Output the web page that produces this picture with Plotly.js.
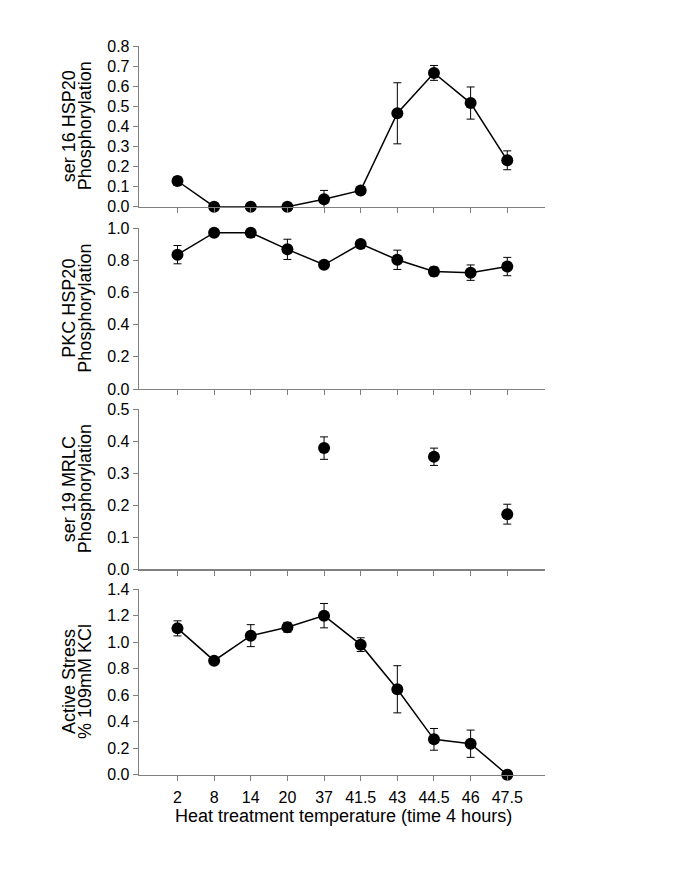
<!DOCTYPE html>
<html>
<head>
<meta charset="utf-8">
<script src="https://cdn.plot.ly/plotly-3.0.1.min.js"></script>
<style>html,body{margin:0;padding:0;background:#fff;}#chart{width:685px;height:885px;}</style>
</head>
<body>
<div id="chart"></div>
<script>
const temps = ['2','8','14','20','37','41.5','43','44.5','46','47.5'];

const ser16Hsp20 = [0.128, 0.0, 0.0, 0.0, 0.037, 0.081, 0.465, 0.666, 0.516, 0.231];
const ser16Hsp20Err = [0.02, 0, 0, 0, 0.044, 0.01, 0.152, 0.037, 0.08, 0.047];

const pkcHsp20 = [0.836, 0.973, 0.973, 0.869, 0.773, 0.903, 0.804, 0.731, 0.724, 0.762];
const pkcHsp20Err = [0.057, 0.01, 0.03, 0.063, 0.015, 0.01, 0.06, 0.028, 0.048, 0.057];

const ser19Mrlc = [null, null, null, null, 0.378, null, null, 0.351, null, 0.172];
const ser19MrlcErr = [null, null, null, null, 0.035, null, null, 0.027, null, 0.031];

const activeStress = [1.105, 0.861, 1.050, 1.113, 1.201, 0.982, 0.645, 0.267, 0.234, 0.0];
const activeStressErr = [0.057, 0.015, 0.083, 0.037, 0.092, 0.052, 0.178, 0.082, 0.103, 0];

const yTitles = [
  ['ser 16 HSP20', 'Phosphorylation'],
  ['PKC HSP20', 'Phosphorylation'],
  ['ser 19 MRLC', 'Phosphorylation'],
  ['Active Stress', '% 109mM KCl']
];
const xTitle = 'Heat treatment temperature (time 4 hours)';

const W = 685, H = 885;
const FONT = 'Liberation Sans, Arial, sans-serif';
const AXC = '#808080';

function trace(y, err, idx, mode) {
  const s = idx === 1 ? '' : String(idx);
  return {
    x: temps, y: y, type: 'scatter', mode: mode,
    xaxis: 'x' + s, yaxis: 'y' + s,
    cliponaxis: false,
    line: {color: '#000', width: 1.5},
    marker: {color: '#000', size: 12, symbol: 'circle'},
    error_y: {type: 'data', array: err, visible: true, color: '#000', thickness: 1, width: 4},
    showlegend: false, hoverinfo: 'x+y'
  };
}

const data = [
  trace(ser16Hsp20, ser16Hsp20Err, 1, 'lines+markers'),
  trace(pkcHsp20, pkcHsp20Err, 2, 'lines+markers'),
  trace(ser19Mrlc, ser19MrlcErr, 3, 'markers'),
  trace(activeStress, activeStressErr, 4, 'lines+markers')
];

// pixel geometry (top, bottom of each panel)
const panels = [[46, 206.7], [228.3, 389], [409, 569.3], [589.3, 774.7]];
const ranges = [[0, 0.8], [0, 1.0], [0, 0.5], [0, 1.4]];
const dticks = [0.1, 0.2, 0.1, 0.2];
const xDom = [139 / W, 545 / W];

const layout = {
  width: W, height: H,
  margin: {l: 0, r: 0, t: 0, b: 0},
  paper_bgcolor: '#fff', plot_bgcolor: '#fff',
  font: {family: FONT, color: '#000', size: 16},
  showlegend: false,
  annotations: []
};

for (let i = 0; i < 4; i++) {
  const s = i === 0 ? '' : String(i + 1);
  const [top, bot] = panels[i];
  layout['xaxis' + s] = {
    domain: xDom, anchor: 'y' + s,
    type: 'category', range: [-1.05, 10.03],
    showline: true, linecolor: AXC, linewidth: 1.3,
    ticks: 'outside', ticklen: 5, tickcolor: AXC, tickwidth: 1,
    showticklabels: i === 3, tickfont: {size: 16, family: FONT, color: '#000'},
    ticklabelstandoff: 3,
    showgrid: false, zeroline: false, fixedrange: true
  };
  if (i > 0) layout['xaxis' + s].matches = 'x';
  layout['yaxis' + s] = {
    domain: [1 - bot / H, 1 - top / H], anchor: 'x' + s,
    range: ranges[i], dtick: dticks[i], tick0: 0, tickformat: '.1f',
    showline: true, linecolor: AXC, linewidth: 1.3,
    ticks: 'outside', ticklen: 5, tickcolor: AXC, tickwidth: 1,
    tickfont: {size: 16, family: FONT, color: '#000'},
    showgrid: false, zeroline: false, fixedrange: true
  };
  const yc = 1 - ((top + bot) / 2) / H;
  layout.annotations.push({
    xref: 'paper', yref: 'paper', x: 69 / W, y: yc, text: yTitles[i][0],
    textangle: -90, showarrow: false, xanchor: 'center', yanchor: 'middle',
    font: {size: 18, family: FONT, color: '#000'}
  });
  layout.annotations.push({
    xref: 'paper', yref: 'paper', x: 85 / W, y: yc, text: yTitles[i][1],
    textangle: -90, showarrow: false, xanchor: 'center', yanchor: 'middle',
    font: {size: 18, family: FONT, color: '#000'}
  });
}

layout.annotations.push({
  xref: 'paper', yref: 'paper', x: 343.5 / W, y: 1 - 816 / H, text: xTitle,
  showarrow: false, xanchor: 'center', yanchor: 'middle',
  font: {size: 18, family: FONT, color: '#000'}
});

Plotly.newPlot('chart', data, layout, {displayModeBar: false, staticPlot: true});
</script>
</body>
</html>
